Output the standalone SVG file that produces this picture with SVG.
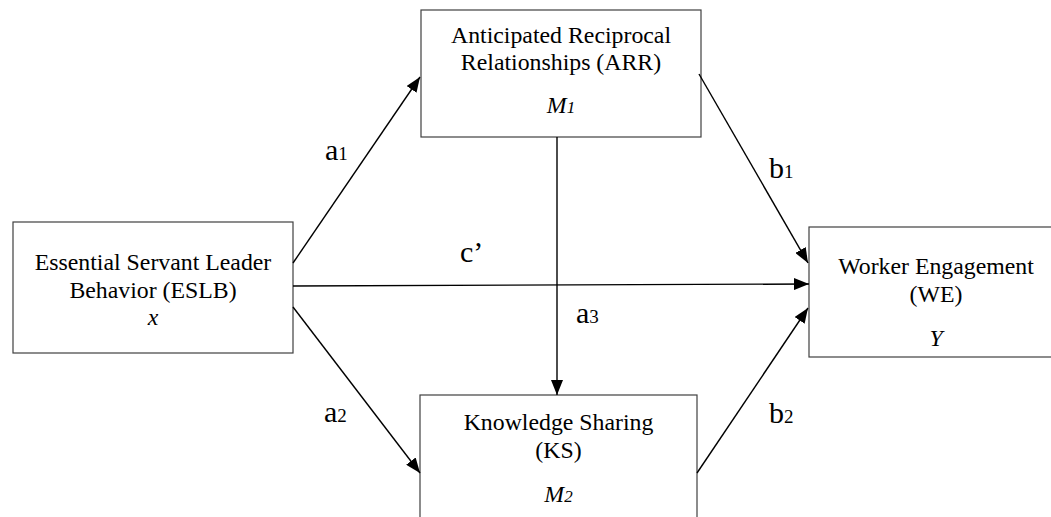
<svg xmlns="http://www.w3.org/2000/svg" width="1051" height="517" viewBox="0 0 1051 517">
<defs>
<marker id="ah" markerUnits="userSpaceOnUse" markerWidth="15" markerHeight="12" refX="15" refY="6" orient="auto">
<path d="M0,0 L15,6 L0,12 z" fill="#000"/>
</marker>
</defs>
<style>
.box{fill:#fff;stroke:#404040;stroke-width:1.2}
.t{font-family:"Liberation Serif","Times New Roman",serif;font-size:23.8px;fill:#000;text-anchor:middle}
.i{font-style:italic}
.lbl{font-family:"Liberation Serif","Times New Roman",serif;font-size:30px;fill:#000}
.sub{font-size:19px}
.con line{stroke:#000;stroke-width:1.4;marker-end:url(#ah)}
</style>
<rect width="1051" height="517" fill="#fff"/>
<g id="ARR">
<rect class="box" x="421" y="10" width="280" height="127"/>
<text class="t" x="561" y="43">Anticipated Reciprocal</text>
<text class="t" x="561" y="70">Relationships (ARR)</text>
<text class="t" x="561" y="113"><tspan class="i">M</tspan><tspan class="i" font-size="17px">1</tspan></text>
</g>
<g id="ESLB">
<rect class="box" x="13" y="222" width="280" height="131"/>
<text class="t" x="153" y="270">Essential Servant Leader</text>
<text class="t" x="153" y="298">Behavior (ESLB)</text>
<text class="t i" x="153" y="325">x</text>
</g>
<g id="WE">
<rect class="box" x="809" y="227" width="260" height="130"/>
<text class="t" x="936" y="274">Worker Engagement</text>
<text class="t" x="936" y="302">(WE)</text>
<text class="t i" x="936" y="346">Y</text>
</g>
<g id="KS">
<rect class="box" x="420" y="395" width="277" height="140"/>
<text class="t" x="558.5" y="430">Knowledge Sharing</text>
<text class="t" x="558.5" y="458">(KS)</text>
<text class="t" x="558.5" y="502"><tspan class="i">M</tspan><tspan class="i" font-size="17px">2</tspan></text>
</g>
<g id="connectors" class="con">
<line x1="293" y1="263" x2="420" y2="77"/>
<line x1="699" y1="74" x2="808" y2="263"/>
<line x1="293" y1="286" x2="809" y2="284"/>
<line x1="293" y1="307" x2="420" y2="473"/>
<line x1="697" y1="473" x2="808" y2="308"/>
<line x1="557" y1="137" x2="557" y2="395"/>
</g>
<g id="labels">
<text class="lbl" x="325" y="160">a<tspan class="sub">1</tspan></text>
<text class="lbl" x="769" y="178">b<tspan class="sub">1</tspan></text>
<text class="lbl" x="460" y="262">c’</text>
<text class="lbl" x="576" y="323">a<tspan class="sub">3</tspan></text>
<text class="lbl" x="324" y="422">a<tspan class="sub">2</tspan></text>
<text class="lbl" x="769" y="423">b<tspan class="sub">2</tspan></text>
</g>
</svg>
